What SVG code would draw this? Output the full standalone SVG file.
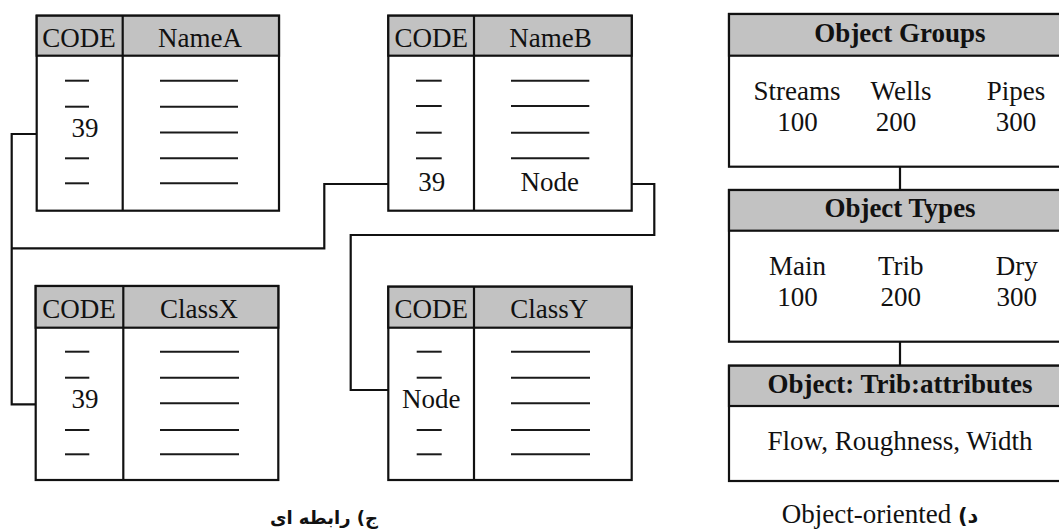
<svg xmlns="http://www.w3.org/2000/svg" width="1059" height="529" viewBox="0 0 1059 529">
<style>
.bg{fill:#fff}
.box{fill:#fff;stroke:#111;stroke-width:2.2}
.hd{fill:#c2c2c2;stroke:#111;stroke-width:2.2}
.ln{stroke:#111;stroke-width:2.2;fill:none}
.ds{stroke:#1a1a1a;stroke-width:2}
.t{font-family:"Liberation Serif","DejaVu Serif",serif;font-size:27px;fill:#111;text-anchor:middle}
.b{font-weight:bold}
.conn{stroke:#111;stroke-width:2.2;fill:none}
.fa{font-family:"DejaVu Sans","Noto Sans",sans-serif;font-weight:bold;font-size:18px;fill:#111;text-anchor:middle}
</style>
<rect class="bg" x="0" y="0" width="1059" height="529"/>

<g id="connectors">
<path class="conn" d="M36.7 134 H11.7 V404.3 H36"/>
<path class="conn" d="M11.7 248.3 H324.3 V184 H388.3"/>
<path class="conn" d="M631.7 184 H654.3 V235 H350.7 V390 H388.3"/>
<path class="conn" d="M900 166.7 V190"/>
<path class="conn" d="M900 341.7 V365.7"/>
</g>

<g id="tableA">
<rect class="box" x="36.7" y="15.7" width="242.3" height="195"/>
<rect class="hd" x="36.7" y="15.7" width="242.3" height="40"/>
<line class="ln" x1="122.7" y1="15.7" x2="122.7" y2="210.7"/>
<text class="t" x="79" y="46.5">CODE</text>
<text class="t" x="200" y="46.5">NameA</text>
<g class="ds">
<line x1="65" y1="80.7" x2="89" y2="80.7"/><line x1="65" y1="106.7" x2="89" y2="106.7"/>
<line x1="65" y1="158.3" x2="89" y2="158.3"/><line x1="65" y1="183.3" x2="89" y2="183.3"/>
<line x1="160" y1="80.7" x2="238" y2="80.7"/><line x1="160" y1="106.7" x2="238" y2="106.7"/>
<line x1="160" y1="132.5" x2="238" y2="132.5"/><line x1="160" y1="158.3" x2="238" y2="158.3"/>
<line x1="160" y1="183.3" x2="238" y2="183.3"/>
</g>
<text class="t" x="85" y="136.7">39</text>
</g>

<g id="tableB">
<rect class="box" x="388.3" y="15.7" width="243.4" height="195"/>
<rect class="hd" x="388.3" y="15.7" width="243.4" height="40"/>
<line class="ln" x1="474" y1="15.7" x2="474" y2="210.7"/>
<text class="t" x="431.3" y="46.5">CODE</text>
<text class="t" x="550.5" y="46.5">NameB</text>
<g class="ds">
<line x1="416" y1="80.7" x2="441.7" y2="80.7"/><line x1="416" y1="106" x2="441.7" y2="106"/>
<line x1="416" y1="132.7" x2="441.7" y2="132.7"/><line x1="416" y1="158.3" x2="441.7" y2="158.3"/>
<line x1="511" y1="80.7" x2="589.3" y2="80.7"/><line x1="511" y1="106" x2="589.3" y2="106"/>
<line x1="511" y1="132.7" x2="589.3" y2="132.7"/><line x1="511" y1="158.3" x2="589.3" y2="158.3"/>
</g>
<text class="t" x="431.7" y="190.7">39</text>
<text class="t" x="549.7" y="190.7">Node</text>
</g>

<g id="tableX">
<rect class="box" x="35.7" y="286" width="242.6" height="194"/>
<rect class="hd" x="35.7" y="286" width="242.6" height="41.7"/>
<line class="ln" x1="123.3" y1="286" x2="123.3" y2="480"/>
<text class="t" x="79" y="317.5">CODE</text>
<text class="t" x="199" y="317.5">ClassX</text>
<g class="ds">
<line x1="65" y1="351.7" x2="89.3" y2="351.7"/><line x1="65" y1="377.7" x2="89.3" y2="377.7"/>
<line x1="65" y1="430" x2="89.3" y2="430"/><line x1="65" y1="454.3" x2="89.3" y2="454.3"/>
<line x1="160" y1="351.7" x2="239" y2="351.7"/><line x1="160" y1="377.7" x2="239" y2="377.7"/>
<line x1="160" y1="403.3" x2="239" y2="403.3"/><line x1="160" y1="430" x2="239" y2="430"/>
<line x1="160" y1="454.3" x2="239" y2="454.3"/>
</g>
<text class="t" x="85" y="408.3">39</text>
</g>

<g id="tableY">
<rect class="box" x="388.3" y="286.7" width="243.4" height="193.3"/>
<rect class="hd" x="388.3" y="286.7" width="243.4" height="41"/>
<line class="ln" x1="474" y1="286.7" x2="474" y2="480"/>
<text class="t" x="431.3" y="317.5">CODE</text>
<text class="t" x="549.3" y="317.5">ClassY</text>
<g class="ds">
<line x1="416.7" y1="351.7" x2="441.7" y2="351.7"/><line x1="416.7" y1="377.7" x2="441.7" y2="377.7"/>
<line x1="416.7" y1="430" x2="441.7" y2="430"/><line x1="416.7" y1="454.3" x2="441.7" y2="454.3"/>
<line x1="511" y1="351.7" x2="590" y2="351.7"/><line x1="511" y1="377.7" x2="590" y2="377.7"/>
<line x1="511" y1="403.3" x2="590" y2="403.3"/><line x1="511" y1="430" x2="590" y2="430"/>
<line x1="511" y1="454.3" x2="590" y2="454.3"/>
</g>
<text class="t" x="431.3" y="407.7">Node</text>
</g>

<g id="objectGroups">
<rect class="box" x="729" y="14" width="345" height="152.7"/>
<rect class="hd" x="729" y="14" width="345" height="41.7"/>
<text class="t b" x="900" y="42">Object Groups</text>
<text class="t" x="797" y="100">Streams</text>
<text class="t" x="901" y="100">Wells</text>
<text class="t" x="1016" y="100">Pipes</text>
<text class="t" x="797.5" y="130.5">100</text>
<text class="t" x="896" y="130.5">200</text>
<text class="t" x="1016" y="130.5">300</text>
</g>

<g id="objectTypes">
<rect class="box" x="729" y="190" width="345" height="151.7"/>
<rect class="hd" x="729" y="190" width="345" height="40.7"/>
<text class="t b" x="900" y="216.7">Object Types</text>
<text class="t" x="797.5" y="275">Main</text>
<text class="t" x="900.8" y="275">Trib</text>
<text class="t" x="1016.7" y="275">Dry</text>
<text class="t" x="797.5" y="306">100</text>
<text class="t" x="900.8" y="306">200</text>
<text class="t" x="1016.7" y="306">300</text>
</g>

<g id="objectAttributes">
<rect class="box" x="729" y="365.7" width="345" height="115.3"/>
<rect class="hd" x="729" y="365.7" width="345" height="40.3"/>
<text class="t b" x="900" y="393.3">Object: Trib:attributes</text>
<text class="t" x="900" y="450">Flow, Roughness, Width</text>
</g>

<g id="captions">
<text class="fa" x="324" y="524">ج) رابطه ای</text>
<text class="t" x="880" y="523" font-size="26.5">Object-oriented <tspan class="b" font-family="DejaVu Sans, sans-serif" font-size="21">(د</tspan></text>
</g>
</svg>
